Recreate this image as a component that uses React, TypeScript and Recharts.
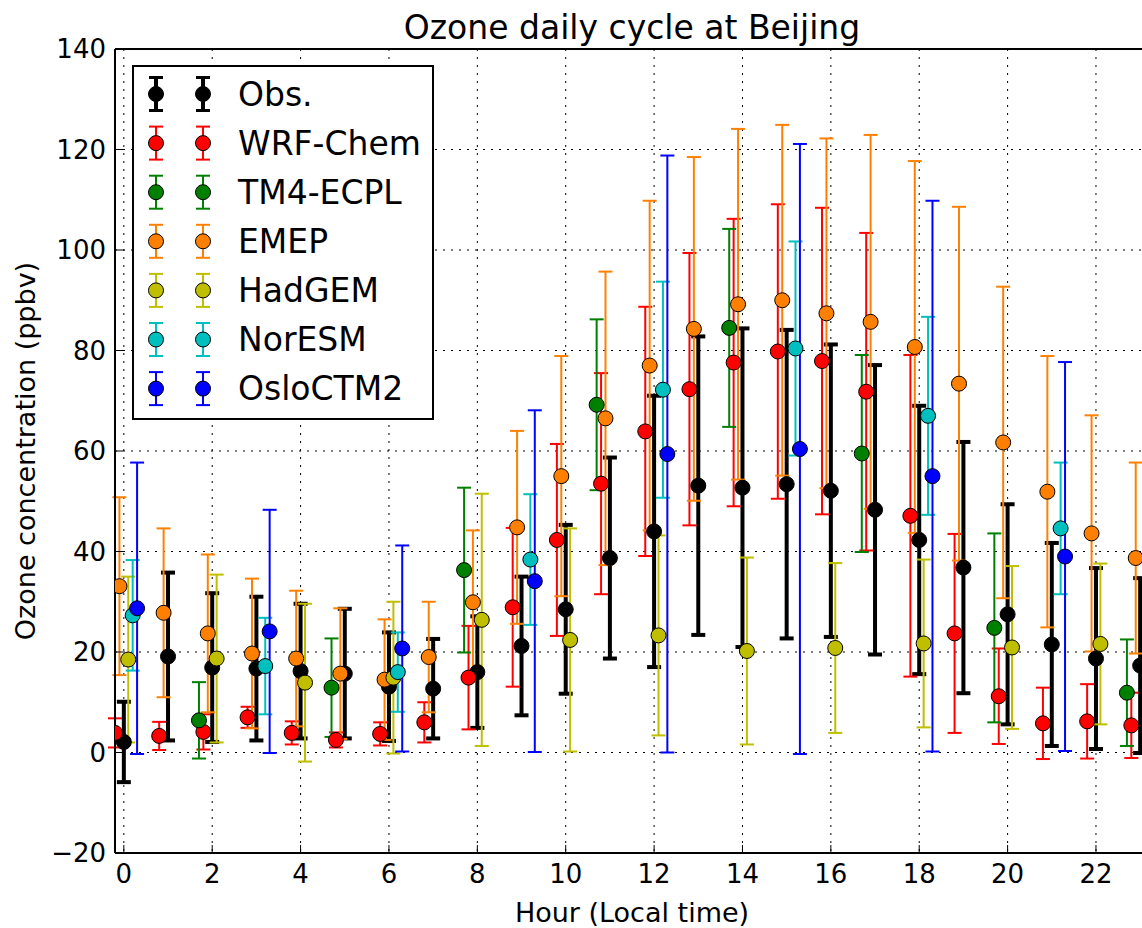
import React from 'react';
import { ScatterChart, Scatter, XAxis, YAxis, CartesianGrid, ErrorBar } from 'recharts';

// hours at which each dataset is reported
const allHours = [0, 1, 2, 3, 4, 5, 6, 7, 8, 9, 10, 11, 12, 13, 14, 15, 16, 17, 18, 19, 20, 21, 22, 23];
const tm4Hours = [2, 5, 8, 11, 14, 17, 20, 23];
const hadgemHours = [0, 2, 4, 6, 8, 10, 12, 14, 16, 18, 20, 22];
const threeHourly = [0, 3, 6, 9, 12, 15, 18, 21];

// mean and standard deviation, ppbv
const obsMean = [2.1, 19.1, 16.9, 16.7, 16.2, 15.7, 13.1, 12.7, 16.0, 21.2, 28.5, 38.7, 44.0, 53.1, 52.7, 53.4, 52.1, 48.3, 42.3, 36.8, 27.5, 21.5, 18.7, 17.3];
const obsSd = [8.0, 16.7, 14.8, 14.3, 13.4, 12.9, 10.8, 9.9, 11.1, 13.8, 16.8, 20.0, 27.0, 29.7, 31.7, 30.7, 29.1, 28.8, 26.7, 25.0, 21.9, 20.2, 18.0, 17.4];

const wrfMean = [3.9, 3.3, 4.1, 7.0, 3.9, 2.5, 3.7, 6.0, 14.9, 28.9, 42.3, 53.5, 63.9, 72.3, 77.6, 79.8, 77.9, 71.8, 47.1, 23.7, 11.2, 5.8, 6.2, 5.4];
const wrfSd = [2.9, 2.8, 3.5, 2.1, 2.3, 1.5, 2.3, 4.0, 10.3, 15.8, 19.1, 22.0, 24.8, 27.1, 28.6, 29.3, 30.5, 31.6, 32.0, 19.8, 9.5, 7.1, 7.4, 6.5];

const tm4Mean = [6.4, 12.9, 36.3, 69.2, 84.5, 59.5, 24.8, 11.9];
const tm4Sd = [7.6, 9.8, 16.4, 17.0, 19.7, 19.6, 18.8, 10.6];

const emepMean = [33.1, 27.8, 23.7, 19.7, 18.7, 15.7, 14.5, 19.0, 29.9, 44.8, 55.0, 66.5, 77.0, 84.3, 89.2, 90.0, 87.4, 85.7, 80.7, 73.4, 61.7, 51.9, 43.6, 38.7];
const emepSd = [17.7, 16.8, 15.7, 14.9, 13.5, 13.0, 12.0, 11.0, 14.3, 19.2, 23.9, 29.2, 32.8, 34.2, 34.9, 34.9, 34.8, 37.2, 37.0, 35.2, 31.0, 27.0, 23.5, 19.0];

const hadgemMean = [18.5, 18.7, 13.9, 14.9, 26.4, 22.4, 23.3, 20.2, 20.8, 21.7, 20.9, 21.6];
const hadgemSd = [16.5, 16.7, 15.7, 15.1, 25.1, 22.2, 19.9, 18.6, 16.9, 16.7, 16.2, 16.0];

const noresmMean = [27.3, 17.2, 16.0, 38.4, 72.2, 80.4, 67.0, 44.6];
const noresmSd = [11.0, 9.6, 7.9, 13.0, 21.5, 21.3, 19.7, 13.1];

const osloMean = [28.7, 24.1, 20.7, 34.1, 59.4, 60.4, 55.0, 39.0];
const osloSd = [29.0, 24.2, 20.5, 34.0, 59.4, 60.7, 54.8, 38.7];

const xTicks = [0, 2, 4, 6, 8, 10, 12, 14, 16, 18, 20, 22];
const yTicks = [-20, 0, 20, 40, 60, 80, 100, 120, 140];

const FONT = '"DejaVu Sans", sans-serif';

const series = [
  { name: 'Obs.', color: '#000000', hours: allHours, mean: obsMean, sd: obsSd, shift: 0, thick: true },
  { name: 'WRF-Chem', color: '#ff0000', hours: allHours, mean: wrfMean, sd: wrfSd, shift: -0.2 },
  { name: 'TM4-ECPL', color: '#008000', hours: tm4Hours, mean: tm4Mean, sd: tm4Sd, shift: -0.3 },
  { name: 'EMEP', color: '#ff8000', hours: allHours, mean: emepMean, sd: emepSd, shift: -0.1 },
  { name: 'HadGEM', color: '#bfbf00', hours: hadgemHours, mean: hadgemMean, sd: hadgemSd, shift: 0.1 },
  { name: 'NorESM', color: '#00bfbf', hours: threeHourly, mean: noresmMean, sd: noresmSd, shift: 0.2 },
  { name: 'OsloCTM2', color: '#0000ff', hours: threeHourly, mean: osloMean, sd: osloSd, shift: 0.3 },
];

const fmt = (v: number) => (v < 0 ? '\u2212' + Math.abs(v) : String(v));

const dot = (fill: string) => (p: any) => (
  <circle cx={p.cx} cy={p.cy} r={7.5} fill={fill} stroke="#000" strokeWidth={1} />
);

const LegendBox = () => (
  <div style={{ position: 'absolute', left: 132, top: 65, width: 298, height: 351, border: '2px solid #000', background: '#fff' }}>
    <svg width={298} height={351}>
      {series.map((s, i) => {
        const cy = 27 + i * 49.1;
        const lw = s.thick ? 4 : 2;
        return (
          <g key={s.name}>
            {[22, 69].map((cx) => (
              <g key={cx}>
                <line x1={cx} x2={cx} y1={cy - 16.5} y2={cy + 16.5} stroke={s.color} strokeWidth={lw} />
                <line x1={cx - 7} x2={cx + 7} y1={cy - 16.5} y2={cy - 16.5} stroke={s.color} strokeWidth={s.thick ? 3 : 2} />
                <line x1={cx - 7} x2={cx + 7} y1={cy + 16.5} y2={cy + 16.5} stroke={s.color} strokeWidth={s.thick ? 3 : 2} />
                <circle cx={cx} cy={cy} r={7.5} fill={s.color} stroke="#000" strokeWidth={1} />
              </g>
            ))}
            <text x={104} y={cy + 11.5} fontSize={33} fontFamily={FONT} fill="#000">{s.name}</text>
          </g>
        );
      })}
    </svg>
  </div>
);

export default function App() {
  return (
    <div style={{ position: 'absolute', left: 0, top: 0, width: 1142, height: 928, overflow: 'hidden', background: '#fff', fontFamily: FONT }}>
      <ScatterChart width={1160} height={928} margin={{ top: 48, right: 11, bottom: 0, left: 0 }}>
        <CartesianGrid stroke="#000" strokeWidth={1} strokeDasharray="2 6" />
        <XAxis
          type="number"
          dataKey="x"
          domain={[-0.2, 23.2]}
          ticks={xTicks}
          interval={0}
          allowDataOverflow
          height={75}
          tickSize={-8}
          tickMargin={19.5}
          axisLine={{ stroke: '#000', strokeWidth: 2 }}
          tickLine={{ stroke: '#000', strokeWidth: 1 }}
          tick={{ fill: '#000', fontSize: 26, fontFamily: FONT }}
          label={{ value: 'Hour (Local time)', position: 'insideBottom', offset: 6, fill: '#000', fontSize: 27, fontFamily: FONT }}
        />
        <XAxis
          xAxisId="top"
          orientation="top"
          type="number"
          dataKey="x"
          domain={[-0.2, 23.2]}
          ticks={xTicks}
          interval={0}
          allowDataOverflow
          height={1}
          tickSize={-8}
          tick={false}
          axisLine={{ stroke: '#000', strokeWidth: 2 }}
          tickLine={{ stroke: '#000', strokeWidth: 1 }}
        />
        <YAxis
          type="number"
          dataKey="y"
          domain={[-20, 140]}
          ticks={yTicks}
          interval={0}
          allowDataOverflow
          width={115}
          tickSize={-8}
          tickMargin={17}
          tickFormatter={fmt}
          axisLine={{ stroke: '#000', strokeWidth: 2 }}
          tickLine={{ stroke: '#000', strokeWidth: 1 }}
          tick={{ fill: '#000', fontSize: 26, fontFamily: FONT }}
          label={{ value: 'Ozone concentration (ppbv)', angle: -90, position: 'insideLeft', offset: 25, fill: '#000', fontSize: 27, fontFamily: FONT, style: { textAnchor: 'middle' } }}
        />
        {series.map((s) => (
          <Scatter
            key={s.name}
            name={s.name}
            data={s.hours.map((h, i) => ({ x: h + s.shift, y: s.mean[i], err: s.sd[i] }))}
            fill={s.color}
            shape={dot(s.color)}
            isAnimationActive={false}
          >
            <ErrorBar dataKey="err" direction="y" width={7} stroke={s.color} strokeWidth={s.thick ? 4 : 2} isAnimationActive={false} />
          </Scatter>
        ))}
      </ScatterChart>
      <div style={{ position: 'absolute', left: 115, width: 1034, top: 8, textAlign: 'center', fontSize: 33, lineHeight: '40px', color: '#000' }}>
        Ozone daily cycle at Beijing
      </div>
      <LegendBox />
    </div>
  );
}
